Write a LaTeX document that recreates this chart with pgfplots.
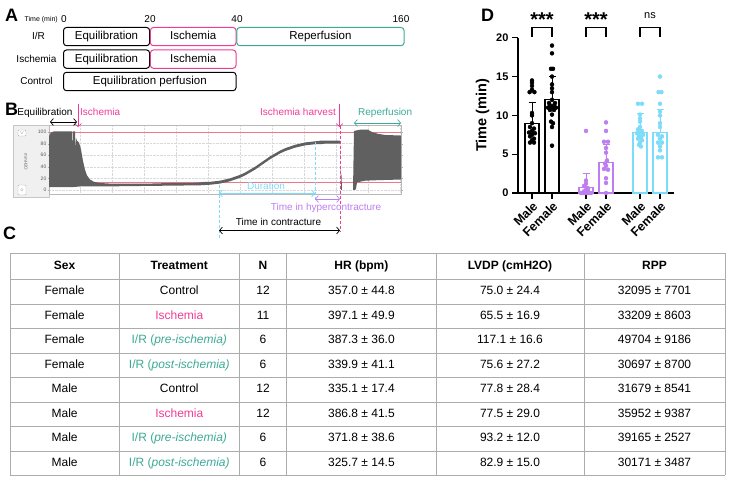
\documentclass[border=0pt]{standalone}
\usepackage{fontspec}
\setmainfont{Liberation Sans}
\usepackage{pgfplots}
\pgfplotsset{compat=1.18}
\usetikzlibrary{arrows.meta}
\definecolor{pk}{RGB}{238,60,150}
\definecolor{tl}{RGB}{60,170,150}
\definecolor{cy}{RGB}{125,220,250}
\definecolor{pu}{RGB}{190,125,240}
\definecolor{tr}{RGB}{96,96,96}
\definecolor{pl}{RGB}{238,120,135}
\newcommand{\fs}[1]{\fontsize{#1}{#1}\selectfont}
\newcommand{\trow}[7]{%
  \node at (64.6,#1) {#2};
  \node at (179.3,#1) {#3};
  \node at (263,#1) {#4};
  \node at (361.4,#1) {#5};
  \node at (510,#1) {#6};
  \node at (654.5,#1) {#7};}
\newcommand{\IRpre}{\textcolor{tl}{I/R (\textit{pre-ischemia)}}}
\newcommand{\IRpost}{\textcolor{tl}{I/R (\textit{post-ischemia)}}}
\newcommand{\Isch}{\textcolor{pk}{Ischemia}}
\begin{document}
\begin{tikzpicture}[x=1pt,y=1pt,
  dbl/.style={{Straight Barb[length=3pt,width=7pt]}-{Straight Barb[length=3pt,width=7pt]}, line width=0.7pt},
  sgl/.style={-{Straight Barb[length=3pt,width=7pt]}, line width=0.7pt}]
\path[use as bounding box] (0,0) rectangle (735,476);

% ---------------- Panel letters
\node[anchor=base west,font=\fs{18}\bfseries,inner sep=0] at (5,454) {A};
\node[anchor=base west,font=\fs{18}\bfseries,inner sep=0] at (5,360) {B};
\node[anchor=base west,font=\fs{18}\bfseries,inner sep=0] at (3,236) {C};
\node[anchor=base west,font=\fs{18}\bfseries,inner sep=0] at (481,454) {D};

% ---------------- Panel A
\node[anchor=east,font=\fs{7},inner sep=0] at (58,456.7) {Time (min)};
\node[font=\fs{10},inner sep=0] at (64,456.7) {0};
\node[font=\fs{10},inner sep=0] at (150,456.7) {20};
\node[font=\fs{10},inner sep=0] at (237,456.7) {40};
\node[font=\fs{10},inner sep=0] at (401,456.7) {160};
\begin{scope}[line width=1pt, rounded corners=3pt]
\draw (63.5,448.5) rectangle (149.6,430.3);
\draw[pk] (150.4,448.5) rectangle (236,430.3);
\draw[tl] (236.8,448.5) rectangle (404,430.3);
\draw (63.5,426) rectangle (149.6,407.7);
\draw[pk] (150.4,426) rectangle (236,407.7);
\draw (63.5,403.7) rectangle (236,385.3);
\end{scope}
\begin{scope}[font=\fs{11.5},text height=1.5ex,text depth=0.3ex]
\node at (106.5,439.4) {Equilibration};
\node at (193.2,439.4) {Ischemia};
\node at (320.4,439.4) {Reperfusion};
\node at (106.5,416.8) {Equilibration};
\node at (193.2,416.8) {Ischemia};
\node at (149.8,394.5) {Equilibration perfusion};
\end{scope}
\begin{scope}[font=\fs{10},text height=1.5ex,text depth=0.3ex]
\node at (38.5,439.4) {I/R};
\node at (36.5,416.8) {Ischemia};
\node at (36.5,394.5) {Control};
\end{scope}

% ---------------- Panel B
\fill[gray!12] (13,351) rectangle (49,279);
\draw[gray!45,line width=0.6pt] (13,351) rectangle (49,279);
\draw[gray!60,fill=white,line width=0.4pt,rounded corners=1pt] (18,346) rectangle (26,340);
\node[font=\fs{4},text=gray] at (22,343) {$\vee$};
\draw[gray!60,fill=white,line width=0.4pt,rounded corners=1pt] (18,291) rectangle (26,281);
\node[font=\fs{4},text=gray] at (22,286) {$\diamond$};
\node[rotate=-90,font=\fs{4.5},text=gray!80!black] at (26,314) {mmH2O};

\begin{axis}[at={(49pt,282pt)}, anchor=south west, scale only axis,
  width=352pt, height=68.3pt, xmin=49, xmax=401, ymin=-7, ymax=111,
  axis line style={gray!55, line width=0.8pt},
  xtick={80,112,...,400}, xticklabels={},
  ytick={0,20,40,60,80,100},
  yticklabel style={font=\fs{5},text=gray!70!black,inner sep=1pt},
  /pgf/number format/assume math mode=true,
  tick style={gray!60}, major tick length=1.5pt, tick align=outside,
  xtick style={draw=none},
  grid=major, grid style={densely dotted, gray!30, line width=0.5pt},
  clip=false]
\addplot[pl, line width=0.6pt] coordinates {(49,100) (401,100)};
\addplot[pl, line width=0.6pt] coordinates {(49,13.5) (401,13.5)};
\addplot[fill=tr, draw=none] coordinates {
 (49,92) (50,97) (52,100) (54,101) (72,101) (72.5,70) (73,101) (75,101) (75.5,65) (76,90)
 (77,85) (79,82) (81,70) (83,50) (85,35) (87,25) (90,18) (94,14) (100,12) (110,11)
 (130,11) (150,11) (170,12) (190,12) (200,13) (205,14) (210,14) (215,15) (220,16)
 (225,18) (230,20) (235,23) (240,26) (245,30) (250,35) (255,40) (260,46) (265,52)
 (270,58) (275,63) (280,68) (285,72) (290,75) (295,78) (300,80) (305,82) (310,83)
 (315,84) (320,85) (325,85) (330,85) (335,85) (340,85) (340.5,30) (341.5,25) (342,0)
 (341,0) (340,80) (335,80) (330,80) (325,80) (320,79) (315,79) (310,78) (305,77)
 (300,75) (295,73) (290,70) (285,67) (280,63) (275,58) (270,53) (265,47) (260,41)
 (255,35) (250,30) (245,25) (240,21) (235,18) (230,15) (225,13) (220,11) (215,10)
 (210,9) (200,8) (150,7) (100,6) (90,6) (80,6) (73,5) (60,5) (49,5)};
\addplot[fill=tr, draw=none] coordinates {
 (353,0) (354,102) (360,104) (368,104) (372,100) (378,97) (385,95) (401,94)
 (401,18) (380,17) (365,16) (357,13) (356,2) (355,0)};
\end{axis}

% B annotations
\node[font=\fs{10},inner sep=0,anchor=base] at (45,360) {Equilibration};
\draw[dbl] (50,354) -- (77,354);
\node[font=\fs{10},inner sep=0,anchor=base west,text=pk] at (80,360) {Ischemia};
\draw[sgl,pk] (78,372) -- (78,349);
\node[font=\fs{10},inner sep=0,anchor=base east,text=pk] at (336,360) {Ischemia harvest};
\draw[sgl,pk] (339.5,372) -- (339.5,349);
\draw[pk,densely dashed,line width=0.8pt] (340.5,350) -- (340.5,244);
\node[font=\fs{10},inner sep=0,anchor=base west,text=tl] at (358,360) {Reperfusion};
\draw[dbl,tl] (354,353) -- (401,353);
\draw[cy,densely dashed,line width=0.8pt] (315,334) -- (315,274);
\draw[cy,densely dashed,line width=0.8pt] (219,291) -- (219,236);
\draw[dbl,cy] (219,282.5) -- (315,282.5);
\node[font=\fs{10},inner sep=0,text=cy,anchor=base] at (266,286.5) {Duration};
\draw[dbl,pu] (315,277) -- (340,277);
\node[font=\fs{10},inner sep=0,text=pu,anchor=base] at (326,265) {Time in hypercontracture};
\draw[dbl] (219,245.5) -- (340,245.5);
\node[font=\fs{10},inner sep=0,anchor=base] at (278.5,250) {Time in contracture};

% ---------------- Panel C table
\begin{scope}[draw=gray!65, line width=0.9pt]
\foreach \yy in {223,197,172,147.3,123,98.5,74,49.5,25,1} {\draw (10,\yy) -- (725,\yy);}
\foreach \xx in {10,119.3,239.3,286.7,436,584,725} {\draw (\xx,223) -- (\xx,1);}
\end{scope}
\begin{scope}[every node/.style={font=\fs{12},text height=1.55ex,text depth=0.35ex,inner sep=0}]
\trow{210}{\textbf{Sex}}{\textbf{Treatment}}{\textbf{N}}{\textbf{HR (bpm)}}{\textbf{LVDP (cmH2O)}}{\textbf{RPP}}
\trow{184.5}{Female}{Control}{12}{357.0 ± 44.8}{75.0 ± 24.4}{32095 ± 7701}
\trow{159.7}{Female}{\Isch}{11}{397.1 ± 49.9}{65.5 ± 16.9}{33209 ± 8603}
\trow{135.2}{Female}{\IRpre}{6}{387.3 ± 36.0}{117.1 ± 16.6}{49704 ± 9186}
\trow{110.8}{Female}{\IRpost}{6}{339.9 ± 41.1}{75.6 ± 27.2}{30697 ± 8700}
\trow{86.3}{Male}{Control}{12}{335.1 ± 17.4}{77.8 ± 28.4}{31679 ± 8541}
\trow{61.8}{Male}{\Isch}{12}{386.8 ± 41.5}{77.5 ± 29.0}{35952 ± 9387}
\trow{37.3}{Male}{\IRpre}{6}{371.8 ± 38.6}{93.2 ± 12.0}{39165 ± 2527}
\trow{13}{Male}{\IRpost}{6}{325.7 ± 14.5}{82.9 ± 15.0}{30171 ± 3487}
\end{scope}

% ---------------- Panel D
\begin{axis}[at={(518pt,283pt)}, anchor=south west, scale only axis,
  width=156pt, height=155.2pt, xmin=-0.7, xmax=7.1, ymin=0, ymax=20,
  axis lines=left, axis line style={line width=1.1pt,-},
  ytick={0,5,10,15,20},
  xtick={0,1,2.7,3.7,5.4,6.4},
  xticklabels={Male,Female,Male,Female,Male,Female},
  tick style={line width=1.1pt,black}, major tick length=6pt, tick align=outside,
  yticklabel style={font=\fs{11}\bfseries},
  xticklabel style={font=\fs{12.5}\bfseries,rotate=45,anchor=north east,inner sep=1pt},
  /pgf/number format/assume math mode=true,
  ylabel={Time (min)}, ylabel style={font=\fs{14.5}\bfseries},
  clip=false]
% bars
\addplot[ybar, bar shift=0pt, bar width=0.7, fill=white, draw=black, line width=1.1pt,
  error bars/.cd, y dir=plus, y explicit,
  error bar style={line width=1pt,black},
  error mark options={rotate=90,mark size=3.5pt,line width=1pt,black}]
  coordinates {(0,9.0) +- (0,2.6) (1,12.0) +- (0,3.0)};
\addplot[ybar, bar shift=0pt, bar width=0.7, fill=white, draw=pu, line width=1.1pt,
  error bars/.cd, y dir=plus, y explicit,
  error bar style={line width=1pt,pu},
  error mark options={rotate=90,mark size=3.5pt,line width=1pt,pu}]
  coordinates {(2.7,0.7) +- (0,1.8) (3.7,3.9) +- (0,2.4)};
\addplot[ybar, bar shift=0pt, bar width=0.7, fill=white, draw=cy, line width=1.1pt,
  error bars/.cd, y dir=plus, y explicit,
  error bar style={line width=1pt,cy},
  error mark options={rotate=90,mark size=3.5pt,line width=1pt,cy}]
  coordinates {(5.4,7.8) +- (0,2.5) (6.4,7.8) +- (0,3.0)};
% dots
\addplot[only marks, mark=*, mark size=2pt, black] coordinates {
 (0,14.5) (0,14.2) (0,13.8) (0,13.3) (-0.12,13.0) (0.12,13.0) (0,10.3) (0,10.0) (0,9.0)
 (-0.1,8.5) (0.1,8.3) (0,8.0) (-0.15,7.8) (0.15,7.7) (0,7.5) (-0.1,7.3) (0.1,7.0) (0,6.8)
 (-0.1,6.5) (0.1,6.5)};
\addplot[only marks, mark=*, mark size=2pt, black] coordinates {
 (1,19.0) (1,18.0) (0.95,16.0) (1.05,16.0) (1,15.0) (1,14.0) (1,13.5) (1,13.0) (1,12.0)
 (0.85,11.6) (1.15,11.6) (0.9,11.3) (1.1,11.3) (0.8,11.0) (1,11.0) (1.2,11.0)
 (0.9,10.7) (1.1,10.7) (1,10.1) (0.95,9.2) (1.05,9.0) (1,8.5) (1,6.1)};
\addplot[only marks, mark=*, mark size=2pt, pu] coordinates {
 (2.7,8.0) (2.7,1.6) (2.7,1.2) (2.6,0.9) (2.8,0.6) (2.7,0.4) (2.6,0.2) (2.8,0.2)
 (2.45,0) (2.55,0) (2.65,0) (2.75,0) (2.85,0) (2.95,0)};
\addplot[only marks, mark=*, mark size=2pt, pu] coordinates {
 (3.7,9.1) (3.7,8.0) (3.6,6.6) (3.8,6.6) (3.7,5.8) (3.7,5.2) (3.75,4.2) (3.65,3.8)
 (3.7,3.5) (3.6,3.1) (3.8,3.0) (3.7,1.9) (3.7,1.3) (3.7,0)};
\addplot[only marks, mark=*, mark size=2pt, cy] coordinates {
 (5.3,11.5) (5.5,11.5) (5.4,10.1) (5.4,9.6) (5.4,9.2) (5.4,8.5) (5.3,8.2) (5.5,8.0)
 (5.4,7.8) (5.25,7.7) (5.55,7.5) (5.35,7.3) (5.45,7.2) (5.3,7.0) (5.5,6.8) (5.4,6.5)
 (5.35,6.2) (5.45,6.0)};
\addplot[only marks, mark=*, mark size=2pt, cy] coordinates {
 (6.4,15.0) (6.33,13.0) (6.47,13.0) (6.4,11.5) (6.4,10.5) (6.4,10.0) (6.4,9.0)
 (6.4,8.5) (6.3,7.5) (6.5,7.3) (6.4,7.0) (6.3,6.5) (6.5,6.5) (6.4,6.0) (6.4,5.5)
 (6.3,4.6) (6.5,4.6)};
% significance
\draw[line width=1.1pt] (axis cs:0,20.1) -- (axis cs:0,21.35) -- (axis cs:1,21.35) -- (axis cs:1,20.1);
\draw[line width=1.1pt] (axis cs:2.7,20.1) -- (axis cs:2.7,21.35) -- (axis cs:3.7,21.35) -- (axis cs:3.7,20.1);
\draw[line width=1.1pt] (axis cs:5.4,20.1) -- (axis cs:5.4,21.35) -- (axis cs:6.4,21.35) -- (axis cs:6.4,20.1);
\node[font=\fs{20}\bfseries,inner sep=0] at (axis cs:0.5,22.3) {***};
\node[font=\fs{20}\bfseries,inner sep=0] at (axis cs:3.2,22.3) {***};
\node[font=\fs{11},inner sep=0] at (axis cs:5.9,22.9) {ns};
\end{axis}
\end{tikzpicture}
\end{document}
